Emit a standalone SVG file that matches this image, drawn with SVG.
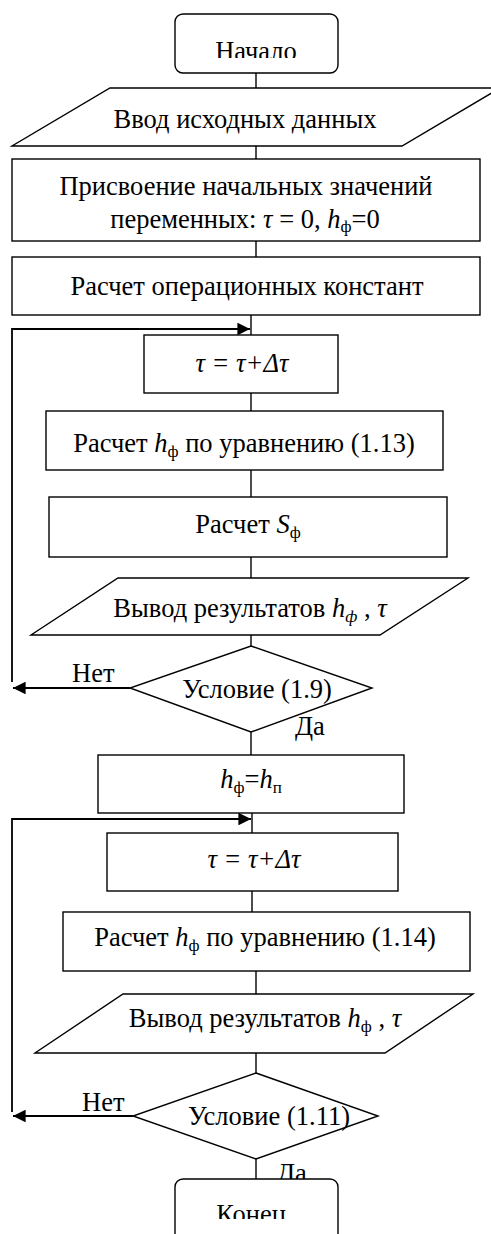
<svg xmlns="http://www.w3.org/2000/svg" width="491" height="1234" viewBox="0 0 491 1234">
  <style>
    .box { fill: #ffffff; stroke: #000000; stroke-width: 1.4; }
    .ln { fill: none; stroke: #000000; stroke-width: 1.4; }
    .loop { fill: none; stroke: #000000; stroke-width: 1.8; }
    text { font-family: "Liberation Serif", "Times New Roman", serif; font-size: 26.5px; fill: #000000; }
    .c { text-anchor: middle; }
    .i { font-style: italic; }
    .sub { font-size: 17px; }
  </style>
  <defs>
    <marker id="head" viewBox="0 0 10 10" refX="10" refY="5" markerWidth="8.5" markerHeight="7" markerUnits="strokeWidth" orient="auto">
      <path d="M0,0 L10,5 L0,10 Z" fill="#000000"/>
    </marker>
    <clipPath id="clipStart"><rect x="175" y="14" width="163" height="44"/></clipPath>
    <clipPath id="clipEnd"><rect x="175" y="1179" width="163" height="40"/></clipPath>
  </defs>

  <!-- connectors -->
  <g id="connectors" font-family="Liberation Serif, serif">
    <line class="ln" x1="256" y1="73" x2="256" y2="88"/>
    <line class="ln" x1="256" y1="146" x2="256" y2="159"/>
    <line class="ln" x1="256" y1="241" x2="256" y2="257"/>
    <line class="ln" x1="251" y1="315" x2="251" y2="335"/>
    <polyline class="loop" points="12,682 12,329 250,329" marker-end="url(#head)"/>
    <line class="ln" x1="251" y1="393" x2="251" y2="411"/>
    <line class="ln" x1="251" y1="470" x2="251" y2="497"/>
    <line class="ln" x1="251" y1="557" x2="251" y2="578"/>
    <line class="ln" x1="251" y1="635" x2="251" y2="646"/>
    <line class="loop" x1="130" y1="688" x2="13" y2="688" marker-end="url(#head)"/>
    <line class="ln" x1="251" y1="732" x2="251" y2="755"/>
    <polyline class="loop" points="12,1112 12,819 251,819" marker-end="url(#head)"/>
    <line class="ln" x1="252" y1="813" x2="252" y2="833"/>
    <line class="ln" x1="252" y1="891" x2="252" y2="912"/>
    <line class="ln" x1="256" y1="971" x2="256" y2="994"/>
    <line class="ln" x1="256" y1="1053" x2="256" y2="1073"/>
    <line class="loop" x1="133" y1="1116" x2="13" y2="1116" marker-end="url(#head)"/>
    <line class="ln" x1="256" y1="1159" x2="256" y2="1179"/>
    <text x="72" y="682">Нет</text>
    <text x="295" y="735">Да</text>
    <text x="82" y="1111">Нет</text>
    <text x="277" y="1182">Да</text>
  </g>

  <g id="start">
    <rect class="box" x="175" y="14" width="163" height="59" rx="8"/>
    <text class="c" x="256" y="60" clip-path="url(#clipStart)">Начало</text>
  </g>

  <g id="input">
    <polygon class="box" points="110,88 500,88 402,146 12,146"/>
    <text class="c" x="245" y="128">Ввод исходных данных</text>
  </g>

  <g id="init">
    <rect class="box" x="12" y="159" width="468" height="82"/>
    <text class="c" x="246" y="195">Присвоение начальных значений</text>
    <text class="c" x="245" y="228">переменных: <tspan class="i">τ</tspan> = 0, <tspan class="i">h</tspan><tspan class="sub" dy="4">ф</tspan><tspan dy="-4">=0</tspan></text>
  </g>

  <g id="constants">
    <rect class="box" x="12" y="257" width="468" height="58"/>
    <text class="c" x="247" y="295">Расчет операционных констант</text>
  </g>

  <g id="step1">
    <rect class="box" x="144" y="335" width="194" height="58"/>
    <text class="c i" x="242" y="372">τ = τ+Δτ</text>
  </g>

  <g id="calc113">
    <rect class="box" x="46" y="411" width="397" height="59"/>
    <text class="c" x="244" y="452">Расчет <tspan class="i">h</tspan><tspan class="sub" dy="5">ф</tspan><tspan dy="-5"> по уравнению (1.13)</tspan></text>
  </g>

  <g id="calcS">
    <rect class="box" x="49" y="497" width="398" height="60"/>
    <text class="c" x="248" y="533">Расчет <tspan class="i">S</tspan><tspan class="sub" dy="5">ф</tspan></text>
  </g>

  <g id="output1">
    <polygon class="box" points="118,578 468,578 380,635 31,635"/>
    <text class="c" x="250" y="617">Вывод результатов <tspan class="i">h</tspan><tspan class="sub i" dy="5">ф</tspan><tspan dy="-5"> ,  </tspan><tspan class="i">τ</tspan></text>
  </g>

  <g id="cond19">
    <polygon class="box" points="251,646 372,688 251,732 130,688"/>
    <text class="c" x="257" y="698">Условие (1.9)</text>
  </g>

  <g id="assign">
    <rect class="box" x="98" y="755" width="306" height="58"/>
    <text class="c" x="251" y="788"><tspan class="i">h</tspan><tspan class="sub" dy="5">ф</tspan><tspan dy="-5">=</tspan><tspan class="i">h</tspan><tspan class="sub" dy="5">п</tspan></text>
  </g>

  <g id="step2">
    <rect class="box" x="107" y="833" width="291" height="58"/>
    <text class="c i" x="254" y="868">τ = τ+Δτ</text>
  </g>

  <g id="calc114">
    <rect class="box" x="63" y="912" width="407" height="59"/>
    <text class="c" x="265" y="946">Расчет <tspan class="i">h</tspan><tspan class="sub" dy="5">ф</tspan><tspan dy="-5"> по уравнению (1.14)</tspan></text>
  </g>

  <g id="output2">
    <polygon class="box" points="123,994 473,994 385,1053 35,1053"/>
    <text class="c" x="265" y="1027">Вывод результатов <tspan class="i">h</tspan><tspan class="sub" dy="5">ф</tspan><tspan dy="-5"> ,  </tspan><tspan class="i">τ</tspan></text>
  </g>

  <g id="cond111">
    <polygon class="box" points="256,1073 378,1116 256,1159 133,1116"/>
    <text class="c" x="269" y="1125">Условие (1.11)</text>
  </g>

  <g id="end">
    <rect class="box" x="175" y="1179" width="163" height="70" rx="8"/>
    <text class="c" x="251" y="1223" clip-path="url(#clipEnd)">Конец</text>
  </g>
</svg>
